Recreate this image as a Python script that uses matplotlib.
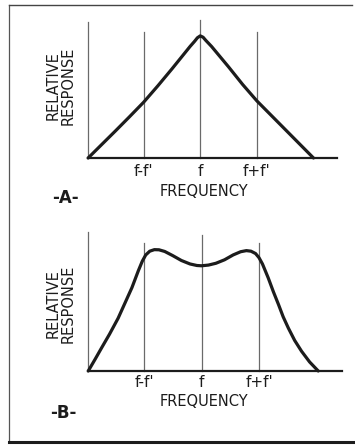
#!/usr/bin/env python3
"""
Relative response vs frequency: single-peak (A) and double-hump (B) curves
"""

import matplotlib
matplotlib.use("Agg")
import matplotlib.pyplot as plt
from matplotlib.lines import Line2D

# frequency offsets in units of f' (f-f' = -1, f = 0, f+f' = +1)
tick_pos = [-1, 0, 1]
tick_labels = ["f-f'", "f", "f+f'"]

# panel A: single resonance peak
freq_a = [-1.98, -1.75, -1.50, -1.25, -1.0, -0.75, -0.50, -0.30, -0.18,
          -0.10, -0.05, 0.0, 0.05, 0.10, 0.20, 0.50, 0.75, 1.0, 1.25,
          1.50, 1.75, 2.0]
resp_a = [0.0, 0.095, 0.198, 0.303, 0.41, 0.53, 0.655, 0.758, 0.82,
          0.858, 0.884, 0.898, 0.888, 0.864, 0.82, 0.67, 0.54, 0.42, 0.315,
          0.21, 0.105, 0.0]

# panel B: overcoupled double hump
freq_b = [-1.97, -1.85, -1.74, -1.60, -1.45, -1.33, -1.21, -1.10, -1.03,
          -0.97, -0.90, -0.82, -0.74, -0.64, -0.50, -0.35, -0.20, -0.08,
          0.0, 0.12, 0.25, 0.40, 0.55, 0.68, 0.78, 0.86, 0.94, 1.0,
          1.06, 1.16, 1.25, 1.34, 1.42, 1.51, 1.62, 1.74, 1.88, 2.03]
resp_b = [0.0, 0.085, 0.165, 0.265, 0.38, 0.49, 0.60, 0.72, 0.79,
          0.835, 0.862, 0.873, 0.872, 0.86, 0.83, 0.795, 0.77, 0.759,
          0.757, 0.762, 0.775, 0.80, 0.835, 0.858, 0.866, 0.862, 0.845, 0.815,
          0.77, 0.67, 0.57, 0.477, 0.39, 0.309, 0.22, 0.142, 0.065, 0.0]

INK = "#1c1c1c"
GRID = "#6a6a6a"
W, H = 355, 445


def draw_panel(ax, freq, resp, side_top, mid_top, xmin, xmax, pad):
    ax.set_xlim(xmin, xmax)
    ax.set_ylim(0, 1)
    ax.patch.set_alpha(0)
    for s in ["top", "right"]:
        ax.spines[s].set_visible(False)
    ax.spines["left"].set_color(GRID)
    ax.spines["left"].set_linewidth(0.9)
    ax.spines["bottom"].set_color(INK)
    ax.spines["bottom"].set_linewidth(1.6)
    ax.set_yticks([])
    ax.set_xticks(tick_pos, labels=tick_labels)
    ax.tick_params(axis="x", length=0, pad=pad, labelsize=11, colors=INK)

    # marker lines at f-f', f, f+f'
    for x, top in zip(tick_pos, [side_top, mid_top, side_top]):
        ax.plot([x, x], [0, top], color=GRID, lw=0.9, clip_on=False, zorder=1)

    ax.plot(freq, resp, color=INK, lw=2.3, solid_capstyle="round",
            solid_joinstyle="round", clip_on=False, zorder=3)


def fx(px):
    return px / W


def fy(py):
    return 1 - py / H


fig = plt.figure(figsize=(3.55, 4.45), dpi=100)
fig.patch.set_facecolor("white")

# panel A
ax_a = fig.add_axes([fx(88.3), fy(158), (336.7 - 88.3) / W, 136 / H])
draw_panel(ax_a, freq_a, resp_a, 0.93, 1.015, -1.977, 2.41, 4.0)

# panel B
ax_b = fig.add_axes([fx(88.3), fy(371), (341.7 - 88.3) / W, 139 / H])
draw_panel(ax_b, freq_b, resp_b, 0.92, 0.98, -1.969, 2.438, 3.0)

# axis titles and panel tags
for cy, fq_y, tag, tag_xy in [(86, 191, "-A-", (65, 198)),
                              (304, 402, "-B-", (63, 413))]:
    fig.text(fx(61), fy(cy), "RELATIVE\nRESPONSE", rotation=90,
             ha="center", va="center", multialignment="center",
             fontsize=10.5, color=INK, linespacing=1.0)
    fig.text(fx(204), fy(fq_y), "FREQUENCY", ha="center", va="center",
             fontsize=10.5, color=INK)
    fig.text(fx(tag_xy[0]), fy(tag_xy[1]), tag, ha="center", va="center",
             fontsize=12, fontweight="bold", color=INK)

# outer frame (left, top, bottom)
fig.add_artist(Line2D([fx(9), fx(9)], [fy(5), fy(442)], color="#555555", lw=0.9))
fig.add_artist(Line2D([fx(9), fx(352)], [fy(5), fy(5)], color="#444444", lw=1.0))
fig.add_artist(Line2D([fx(9), fx(355)], [fy(442), fy(442)], color=INK, lw=2.2))

fig.savefig("out.png", dpi=100)
